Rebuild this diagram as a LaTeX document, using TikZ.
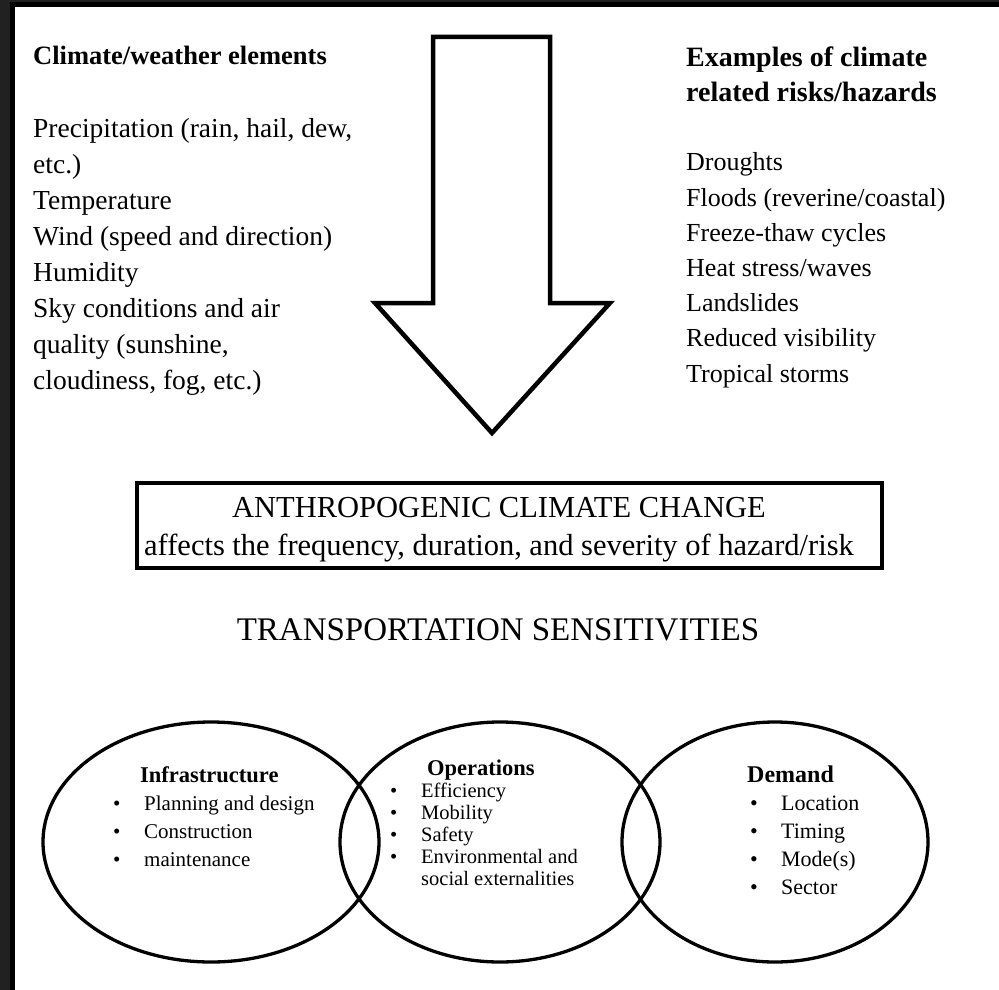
\documentclass[tikz,border=0pt]{standalone}
\usepackage{fontspec}
\setmainfont{Liberation Serif}
\newcommand{\itm}[1]{\makebox[31pt][l]{\textbullet}#1}

\begin{document}
\begin{tikzpicture}[x=1pt,y=-1pt,
  txt/.style={inner sep=0pt,anchor=base west,align=left},
  bigtxt/.style={txt,font=\fontsize{26}{36}\selectfont},
  headtxt/.style={txt,font=\fontsize{26.5}{35}\selectfont\bfseries},
  hugetxt/.style={inner sep=0pt,anchor=base,align=center,font=\fontsize{30.5}{38}\selectfont},
  ovltitle/.style={txt,font=\fontsize{22.5}{28}\selectfont\bfseries},
  ovltxt/.style={txt,font=\fontsize{21}{28}\selectfont},
  ring/.style={line width=3.3pt}]
\useasboundingbox (0,0) rectangle (999,990);
% frame
\fill[black!87] (0,0) rectangle (10,990);
\fill[black!87] (0,0) rectangle (999,2.5);
\draw[line width=5pt] (12.5,990) -- (12.5,5) -- (999,5);

% big arrow
\filldraw[fill=white, line width=4.5pt] (433,37) -- (550,37) -- (550,303) -- (610,303)
  -- (492,433) -- (375,303) -- (433,303) -- cycle;

% left column (base = last line)
\node[headtxt] (elemhead) at (33,65) {Climate/weather elements};
\node[bigtxt,font=\fontsize{27.5}{36}\selectfont] (elemlist) at (33,389) {Precipitation (rain, hail, dew,\\ etc.)\\ Temperature\\
  Wind (speed and direction)\\ Humidity\\ Sky conditions and air\\
  quality (sunshine,\\ cloudiness, fog, etc.)};

% right column
\node[headtxt,font=\fontsize{28}{35}\selectfont\bfseries] (riskhead) at (686,101) {Examples of climate\\ related risks/hazards};
\node[bigtxt,font=\fontsize{26}{35.2}\selectfont] (risklist) at (686,382) {Droughts\\
  Floods (reverine/coastal)\\ Freeze-thaw cycles\\ Heat stress/waves\\ Landslides\\
  Reduced visibility\\ Tropical storms};

% climate change box
\draw[line width=4pt] (137,483) rectangle (882,568);
\node[hugetxt] (acc) at (499,555) {ANTHROPOGENIC CLIMATE CHANGE\\
  affects the frequency, duration, and severity of hazard/risk};

\node[hugetxt,font=\fontsize{33}{38}\selectfont] (sens) at (498,640) {TRANSPORTATION SENSITIVITIES};

% three ovals
\draw[ring] (211,842) ellipse [x radius=168, y radius=120];
\draw[ring] (500,842) ellipse [x radius=160, y radius=120];
\draw[ring] (775,842) ellipse [x radius=153, y radius=120];

\node[ovltitle] (infra) at (140,782) {Infrastructure};
\node[ovltxt] (infralist) at (113,866) {\itm{Planning and design}\\ \itm{Construction}\\
  \itm{maintenance}};

\node[ovltitle] (oper) at (427,775) {Operations};
\node[ovltxt,font=\fontsize{20.5}{22}\selectfont] (operlist) at (390,885) {\itm{Efficiency}\\
  \itm{Mobility}\\ \itm{Safety}\\ \itm{Environmental and}\\ \hspace*{31pt}social externalities};

\node[ovltitle,font=\fontsize{24}{28}\selectfont\bfseries] (dem) at (747,782) {Demand};
\node[ovltxt,font=\fontsize{22}{28}\selectfont] (demlist) at (750,894) {\itm{Location}\\
  \itm{Timing}\\ \itm{Mode(s)}\\ \itm{Sector}};
\end{tikzpicture}
\end{document}
